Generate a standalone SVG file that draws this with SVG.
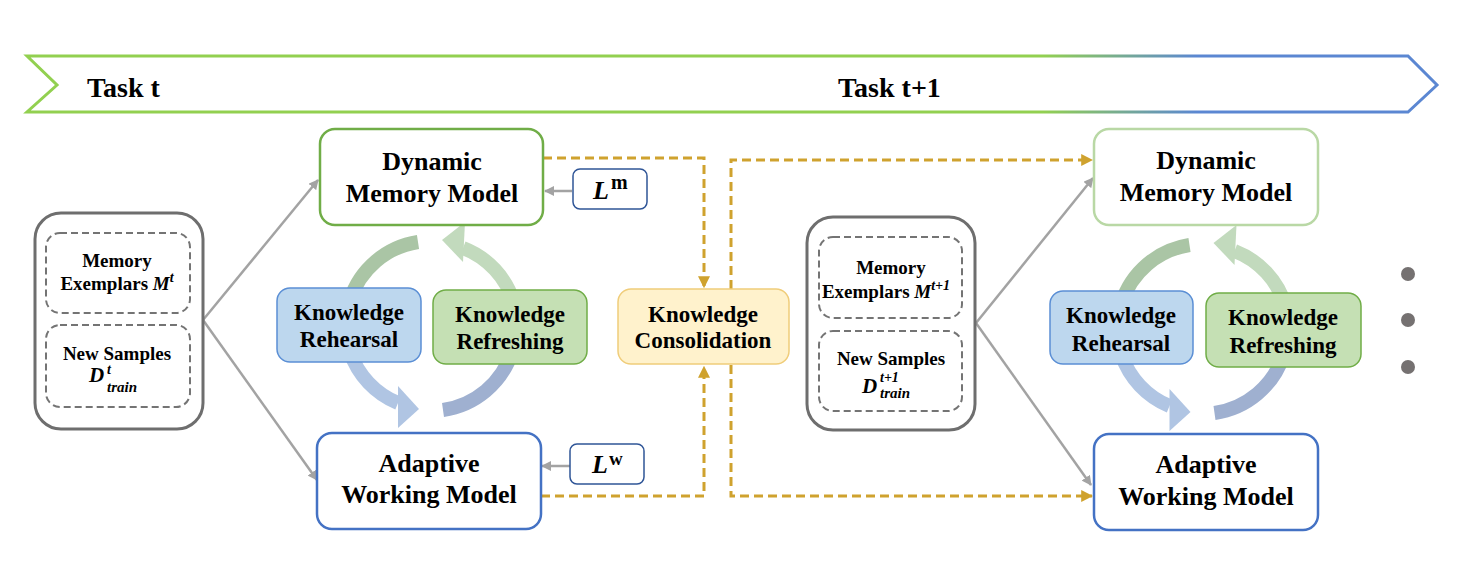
<svg xmlns="http://www.w3.org/2000/svg" width="1467" height="572" viewBox="0 0 1467 572">
<style>
  text { font-family: "Liberation Serif", Tinos, "Times New Roman", "DejaVu Serif", serif; font-weight: bold; fill: #000; }
  .t28 { font-size: 28px; }
  .t26 { font-size: 26px; text-anchor: middle; }
  .t23 { font-size: 23px; text-anchor: middle; }
  .t19 { font-size: 19px; text-anchor: middle; }
  .it { font-style: italic; }
  .outer { fill: #fff; stroke: #6e6e6e; stroke-width: 3; }
  .inner { fill: none; stroke: #747474; stroke-width: 2; stroke-dasharray: 7 4; }
  .gray { stroke: #a3a3a3; stroke-width: 2.5; fill: none; }
  .gold { stroke: #cfa22e; stroke-width: 3; fill: none; stroke-dasharray: 9 5; }
  .lbox { fill: #fff; stroke: #2f5597; stroke-width: 1.5; }
  .arc { fill: none; stroke-width: 14; }
</style>
<defs>
  <linearGradient id="banner" gradientUnits="userSpaceOnUse" x1="27" y1="0" x2="1437" y2="0">
    <stop offset="0" stop-color="#92d050"/>
    <stop offset="0.72" stop-color="#92d050"/>
    <stop offset="0.83" stop-color="#5b87d2"/>
    <stop offset="1" stop-color="#5b87d2"/>
  </linearGradient>
  <marker id="ag" viewBox="0 0 10 10" refX="9" refY="5" markerWidth="4" markerHeight="4" orient="auto">
    <path d="M0,0 L10,5 L0,10 z" fill="#a3a3a3"/>
  </marker>
  <marker id="ay" viewBox="0 0 10 10" refX="9" refY="5" markerWidth="4" markerHeight="4" orient="auto" markerUnits="strokeWidth">
    <path d="M0,0 L10,5 L0,10 z" fill="#cfa22e"/>
  </marker>
  <g id="cycle">
    <path class="arc" stroke="#aac5a5" d="M 350 300 A 85 85 0 0 1 418 242"/>
    <path class="arc" stroke="#c2dabd" d="M 514 303 A 85 85 0 0 0 463 248"/>
    <polygon fill="#c2dabd" points="465,222 463,262 442,240"/>
    <path class="arc" stroke="#b0c5e3" d="M 350 352 A 85 85 0 0 0 398 403"/>
    <polygon fill="#b0c5e3" points="398,386 398,428 419,409"/>
    <path class="arc" stroke="#9fb0d0" d="M 512 352 A 85 85 0 0 1 443 410"/>
  </g>
</defs>

<g id="banner-arrow">
  <polygon points="27,56 1408,56 1437,85 1408,112 27,112 57,85" fill="#fff" stroke="url(#banner)" stroke-width="3"/>
  <text class="t28" x="87" y="97">Task t</text>
  <text class="t28" x="838" y="97">Task t+1</text>
</g>

<g id="connectors">
  <line class="gray" x1="203" y1="320" x2="318" y2="180" marker-end="url(#ag)"/>
  <line class="gray" x1="203" y1="320" x2="317" y2="480" marker-end="url(#ag)"/>
  <line class="gray" x1="976" y1="323" x2="1093" y2="178" marker-end="url(#ag)"/>
  <line class="gray" x1="976" y1="323" x2="1091" y2="485" marker-end="url(#ag)"/>
  <line class="gray" x1="572" y1="191" x2="545" y2="191" marker-end="url(#ag)"/>
  <line class="gray" x1="570" y1="466" x2="542" y2="466" marker-end="url(#ag)"/>
  <path class="gold" d="M 543 158 H 704 V 287" marker-end="url(#ay)"/>
  <path class="gold" d="M 541 496 H 704 V 367" marker-end="url(#ay)"/>
  <path class="gold" d="M 731 289 V 160 H 1092" marker-end="url(#ay)"/>
  <path class="gold" d="M 731 365 V 496 H 1092" marker-end="url(#ay)"/>
</g>

<g id="cycle-left"><use href="#cycle"/></g>
<g id="cycle-right"><use href="#cycle" transform="translate(771.5,3)"/></g>

<g id="input-t">
  <rect class="outer" x="35" y="213" width="168" height="216" rx="26"/>
  <rect class="inner" x="46" y="233" width="144" height="80" rx="14"/>
  <rect class="inner" x="46" y="325" width="144" height="82" rx="14"/>
  <text class="t19" x="117" y="267">Memory</text>
  <text class="t19" x="117" y="290">Exemplars <tspan class="it">M</tspan><tspan class="it" font-size="14" dy="-8">t</tspan></text>
  <text class="t19" x="117" y="360">New Samples</text>
  <text class="it" font-size="21" x="89" y="382">D</text>
  <text class="it" font-size="14" x="107" y="374">t</text>
  <text class="it" font-size="15" x="107" y="392">train</text>
</g>

<g id="dmm-t">
  <rect x="320" y="129" width="223" height="96" rx="15" fill="#fff" stroke="#70ad47" stroke-width="2.5"/>
  <text class="t26" x="432" y="170">Dynamic</text>
  <text class="t26" x="432" y="202">Memory Model</text>
</g>

<g id="lm">
  <rect class="lbox" x="573" y="169" width="74" height="40" rx="7"/>
  <text class="it" font-size="26" x="593" y="199">L</text>
  <text font-size="20" font-weight="normal" x="611" y="189">m</text>
</g>

<g id="awm-t">
  <rect x="317" y="433" width="224" height="96" rx="15" fill="#fff" stroke="#4472c4" stroke-width="2.5"/>
  <text class="t26" x="429" y="472">Adaptive</text>
  <text class="t26" x="429" y="503">Working Model</text>
</g>

<g id="lw">
  <rect class="lbox" x="570" y="444" width="74" height="40" rx="7"/>
  <text class="it" font-size="26" x="592" y="473">L</text>
  <text font-size="19" font-weight="normal" x="609" y="465">w</text>
</g>

<g id="rehearsal-t">
  <rect x="277" y="288" width="144" height="74" rx="13" fill="#bdd7ee" stroke="#5b8fd5" stroke-width="1.5"/>
  <text class="t23" x="349" y="320">Knowledge</text>
  <text class="t23" x="349" y="347">Rehearsal</text>
</g>

<g id="refreshing-t">
  <rect x="433" y="290" width="154" height="74" rx="13" fill="#c5e0b4" stroke="#70ad47" stroke-width="1.5"/>
  <text class="t23" x="510" y="322">Knowledge</text>
  <text class="t23" x="510" y="349">Refreshing</text>
</g>

<g id="consolidation">
  <rect x="618" y="289" width="171" height="75" rx="13" fill="#fff2cc" stroke="#f0cd7a" stroke-width="1.5"/>
  <text class="t23" x="703" y="322">Knowledge</text>
  <text class="t23" x="703" y="348">Consolidation</text>
</g>

<g id="input-t1">
  <rect class="outer" x="807" y="217" width="168" height="213" rx="26"/>
  <rect class="inner" x="819" y="237" width="143" height="81" rx="14"/>
  <rect class="inner" x="819" y="331" width="143" height="80" rx="14"/>
  <text class="t19" x="891" y="274">Memory</text>
  <text class="t19" x="886" y="298">Exemplars <tspan class="it">M</tspan><tspan class="it" font-size="14" dy="-8">t+1</tspan></text>
  <text class="t19" x="891" y="365">New Samples</text>
  <text class="it" font-size="21" x="862" y="393">D</text>
  <text class="it" font-size="14" x="880" y="382">t+1</text>
  <text class="it" font-size="15" x="880" y="398">train</text>
</g>

<g id="dmm-t1">
  <rect x="1094" y="129" width="224" height="96" rx="15" fill="#fff" stroke="#b9d8a5" stroke-width="2.5"/>
  <text class="t26" x="1206" y="169">Dynamic</text>
  <text class="t26" x="1206" y="201">Memory Model</text>
</g>

<g id="awm-t1">
  <rect x="1094" y="434" width="224" height="96" rx="15" fill="#fff" stroke="#4472c4" stroke-width="2.5"/>
  <text class="t26" x="1206" y="473">Adaptive</text>
  <text class="t26" x="1206" y="505">Working Model</text>
</g>

<g id="rehearsal-t1">
  <rect x="1050" y="291" width="143" height="73" rx="13" fill="#bdd7ee" stroke="#5b8fd5" stroke-width="1.5"/>
  <text class="t23" x="1121" y="323">Knowledge</text>
  <text class="t23" x="1121" y="351">Rehearsal</text>
</g>

<g id="refreshing-t1">
  <rect x="1206" y="293" width="155" height="74" rx="13" fill="#c5e0b4" stroke="#70ad47" stroke-width="1.5"/>
  <text class="t23" x="1283" y="325">Knowledge</text>
  <text class="t23" x="1283" y="353">Refreshing</text>
</g>

<g id="ellipsis">
  <circle cx="1408" cy="274" r="7" fill="#757171"/>
  <circle cx="1408" cy="320" r="7" fill="#757171"/>
  <circle cx="1408" cy="367" r="7" fill="#757171"/>
</g>
</svg>
